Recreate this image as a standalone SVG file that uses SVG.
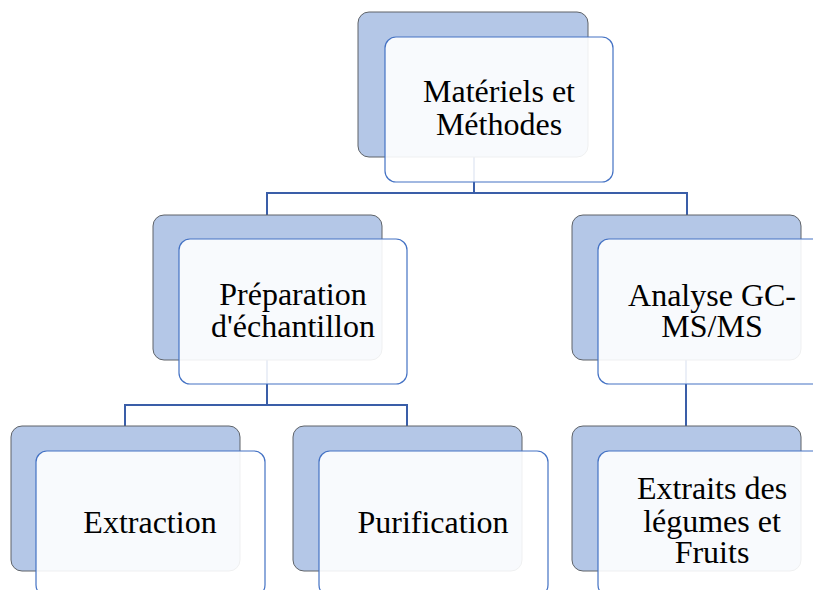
<svg xmlns="http://www.w3.org/2000/svg" width="813" height="590" viewBox="0 0 813 590">
<style>
.back{fill:#b4c7e7;stroke:#5f6368;stroke-width:1}
.front{fill:#ffffff;fill-opacity:0.9;stroke:#4472c4;stroke-width:1.2}
.conn{fill:none;stroke:#3a5ea8;stroke-width:2}
text{font-family:"Liberation Serif","Times New Roman",serif;font-size:32px;fill:#000;text-anchor:middle}
</style>
<rect width="813" height="590" fill="#ffffff"/>
<g id="connectors">
<path class="conn" d="M474,157 V193 M267,215 V193 H687 V215"/>
<path class="conn" d="M267,360 V405 M125,426 V405 H407 V426"/>
<path class="conn" d="M686,360 V426"/>
</g>
<g id="node-materiels">
<rect class="back" x="358" y="12" width="230" height="145" rx="11"/>
<rect class="front" x="385" y="37" width="228" height="145" rx="11"/>
<text x="499" y="102">Matériels et</text>
<text x="499" y="135">Méthodes</text>
</g>
<g id="node-preparation">
<rect class="back" x="153" y="215" width="229" height="145" rx="11"/>
<rect class="front" x="179" y="239" width="228" height="145" rx="11"/>
<text x="293" y="305">Préparation</text>
<text x="293" y="337">d'échantillon</text>
</g>
<g id="node-analyse">
<rect class="back" x="572" y="215" width="229" height="145" rx="11"/>
<rect class="front" x="598" y="239" width="229" height="145" rx="11"/>
<text x="712" y="306">Analyse GC-</text>
<text x="712" y="337">MS/MS</text>
</g>
<g id="node-extraction">
<rect class="back" x="11" y="426" width="229" height="145" rx="11"/>
<rect class="front" x="36" y="451" width="229" height="145" rx="11"/>
<text x="150" y="533">Extraction</text>
</g>
<g id="node-purification">
<rect class="back" x="293" y="426" width="229" height="145" rx="11"/>
<rect class="front" x="319" y="451" width="229" height="145" rx="11"/>
<text x="433" y="533">Purification</text>
</g>
<g id="node-extraits">
<rect class="back" x="572" y="426" width="229" height="145" rx="11"/>
<rect class="front" x="598" y="451" width="229" height="145" rx="11"/>
<text x="712" y="499">Extraits des</text>
<text x="712" y="532">légumes et</text>
<text x="712" y="563">Fruits</text>
</g>
</svg>
